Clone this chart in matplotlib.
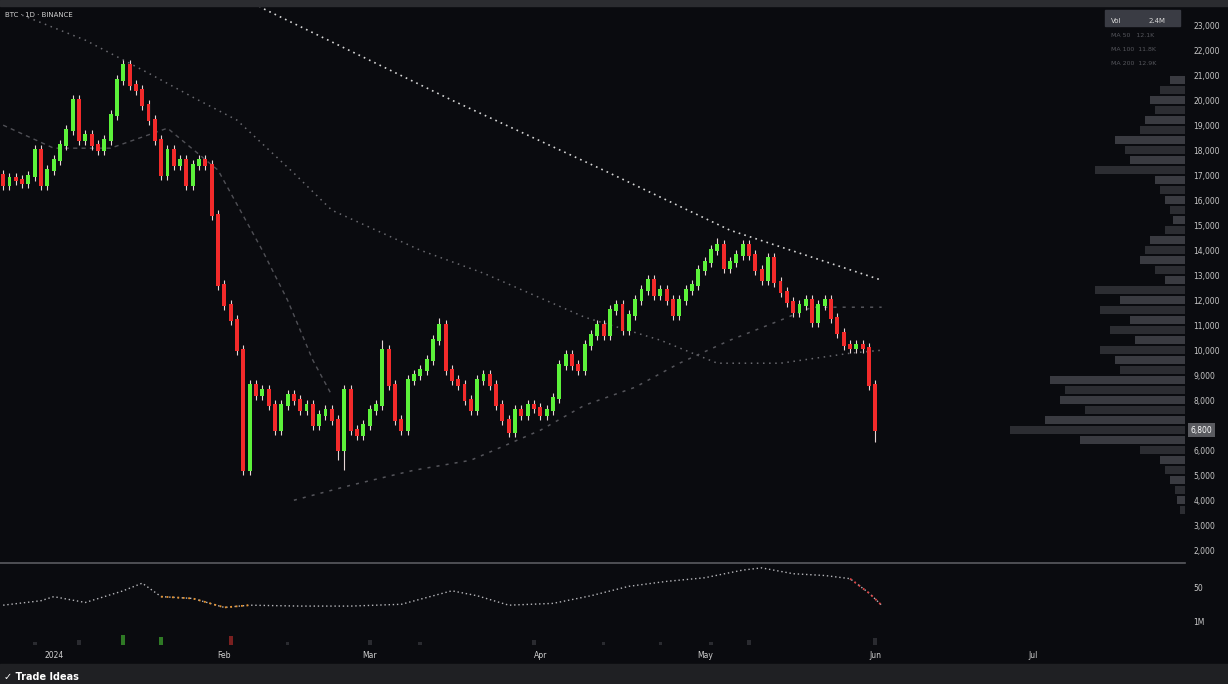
import numpy as np
import matplotlib.pyplot as plt
from matplotlib.patches import Rectangle

# candles (daily)
opens = [17000, 16600, 16880, 16800, 16680, 16960, 18000, 16600, 17200, 17600,
         18200, 18800, 20000, 18400, 18600, 18200, 18000, 18400, 19400, 20800,
         21400, 20600, 20400, 19800, 19200, 18400, 17000, 18000, 17400, 17600,
         16600, 17400, 17600, 17400, 15400, 12600, 11800, 11200, 10000, 5200,
         8600, 8200, 8400, 7800, 6800, 7800, 8200, 8000, 7600, 7800,
         7000, 7400, 7600, 7200, 6000, 8400, 6800, 6600, 7000, 7600,
         7800, 10000, 8600, 7200, 6800, 8800, 9000, 9200, 9600, 10400,
         11000, 9200, 8800, 8600, 8000, 7600, 8800, 9000, 8600, 7800,
         7200, 6720, 7600, 7400, 7800, 7680, 7400, 7600, 8080, 9400,
         9800, 9400, 9200, 10200, 10600, 11000, 10600, 11600, 11800, 10800,
         11400, 12000, 12400, 12800, 12200, 12400, 12000, 11400, 12000, 12400,
         12600, 13200, 13520, 14000, 14200, 13280, 13520, 13800, 14200, 13800,
         13200, 12800, 13680, 12720, 12320, 11920, 11520, 11800, 12000, 11120,
         11800, 12000, 11280, 10680, 10200, 10080, 10200, 10080, 8600]
closes = [16600, 16880, 16800, 16680, 16960, 18000, 16600, 17200, 17600, 18200,
          18800, 20000, 18400, 18600, 18200, 18000, 18400, 19400, 20800, 21400,
          20600, 20400, 19800, 19200, 18400, 17000, 18000, 17400, 17600, 16600,
          17400, 17600, 17400, 15400, 12600, 11800, 11200, 10000, 5200, 8600,
          8200, 8400, 7800, 6800, 7800, 8200, 8000, 7600, 7800, 7000,
          7400, 7600, 7200, 6000, 8400, 6800, 6600, 7000, 7600, 7800,
          10000, 8600, 7200, 6800, 8800, 9000, 9200, 9600, 10400, 11000,
          9200, 8800, 8600, 8000, 7600, 8800, 9000, 8600, 7800, 7200,
          6720, 7600, 7400, 7800, 7680, 7400, 7600, 8080, 9400, 9800,
          9400, 9200, 10200, 10600, 11000, 10600, 11600, 11800, 10800, 11400,
          12000, 12400, 12800, 12200, 12400, 12000, 11400, 12000, 12400, 12600,
          13200, 13520, 14000, 14200, 13280, 13520, 13800, 14200, 13800, 13200,
          12800, 13680, 12720, 12320, 11920, 11520, 11800, 12000, 11120, 11800,
          12000, 11280, 10680, 10200, 10080, 10200, 10080, 8600, 6800]
highs = [17200, 17080, 17080, 17000, 17160, 18200, 18200, 17400, 17800, 18400,
         19000, 20200, 20200, 18800, 18800, 18400, 18600, 19600, 21000, 21600,
         21600, 20800, 20600, 20000, 19400, 18600, 18200, 18200, 17800, 17800,
         17600, 17800, 17800, 17600, 15600, 12800, 12000, 11400, 10200, 8800,
         8800, 8600, 8600, 8000, 8000, 8400, 8400, 8200, 8000, 8000,
         7600, 7800, 7800, 7400, 8600, 8600, 7000, 7200, 7800, 8000,
         10400, 10200, 8800, 7400, 9000, 9200, 9400, 9800, 10600, 11280,
         11200, 9400, 9000, 8800, 8200, 9000, 9200, 9200, 8800, 8000,
         7400, 7800, 7800, 8000, 8000, 7880, 7800, 8280, 9600, 10000,
         10000, 9600, 10400, 10800, 11200, 11200, 11800, 12000, 12000, 11600,
         12200, 12600, 13000, 13000, 12600, 12600, 12200, 12200, 12600, 12800,
         13400, 13720, 14200, 14480, 14400, 13720, 14000, 14400, 14400, 14000,
         13400, 13880, 13880, 12920, 12520, 12120, 12000, 12200, 12200, 12000,
         12200, 12200, 11480, 10880, 10400, 10400, 10400, 10280, 8800]
lows = [16400, 16400, 16600, 16480, 16480, 16760, 16400, 16400, 17000, 17400,
        18000, 18600, 18200, 18200, 18000, 17800, 17800, 18200, 19200, 20600,
        20400, 20200, 19600, 19000, 18200, 16800, 16800, 17200, 17200, 16400,
        16400, 17200, 17200, 15200, 12400, 11600, 11000, 9800, 5000, 5000,
        8000, 8000, 7600, 6600, 6600, 7600, 7800, 7400, 7400, 6800,
        6800, 7200, 7000, 5600, 5200, 6600, 6400, 6400, 6800, 7400,
        7600, 8400, 7000, 6600, 6600, 8600, 8800, 9000, 9400, 10200,
        9000, 8600, 8400, 7800, 7400, 7400, 8600, 8400, 7600, 7000,
        6520, 6520, 7200, 7200, 7480, 7200, 7200, 7400, 7880, 9200,
        9200, 9000, 9000, 10000, 10400, 10400, 10400, 11400, 10600, 10600,
        11200, 11800, 12200, 12000, 12000, 11800, 11200, 11200, 11800, 12200,
        12400, 13000, 13320, 13800, 13080, 13080, 13320, 13600, 13600, 13000,
        12600, 12600, 12520, 12120, 11720, 11320, 11320, 11600, 10920, 10920,
        11600, 11080, 10480, 10000, 9880, 9880, 9880, 8400, 6320]

# moving average lines (candle index, price)
ma_slow_x = [36, 41, 71, 95, 115, 139]
ma_slow_y = [24600, 23680, 20000, 17200, 14800, 12800]
ma_mid_x = [3, 13, 23, 30, 37, 46, 52, 66, 76, 92, 104, 113, 123, 134, 139]
ma_mid_y = [23400, 22400, 21080, 20120, 19200, 17080, 15600, 14000, 13080,
            11320, 10400, 9480, 9480, 9880, 10000]
ma_fast_x = [0, 8, 17, 26, 34, 41, 45, 49, 52]
ma_fast_y = [19000, 18080, 18080, 18880, 17200, 14000, 12000, 9600, 8200]
ma_low_x = [46, 55, 65, 74, 85, 92, 100, 107, 115, 123, 128, 139]
ma_low_y = [4000, 4600, 5200, 5600, 6800, 7800, 8520, 9480, 10400, 11200,
            11720, 11720]

# volume profile
vp_price = list(range(20800, 3200, -400))
vp_vol = [15, 25, 35, 30, 40, 45, 70, 60, 55, 90, 30, 25, 20, 15, 12, 20,
          35, 40, 45, 30, 20, 90, 65, 85, 55, 75, 50, 85, 70, 65, 135, 120,
          125, 100, 140, 175, 105, 45, 25, 20, 15, 10, 8, 5]

# oscillator
osc_x = [0, 6, 8, 13, 19, 22, 25, 30, 35, 39, 47, 55, 63, 71, 75, 80, 87,
         93, 99, 105, 111, 117, 120, 125, 130, 134, 137, 139]
osc_y = [11, 21, 30, 17, 43, 60, 30, 26, 6, 11, 9, 9, 13, 43, 32, 11, 15,
         32, 53, 64, 72, 89, 94, 81, 77, 70, 38, 11]

# volume strip (only visible bars)
vol_x = [5, 12, 19, 25, 36, 45, 58, 66, 84, 95, 104, 112, 118, 138]
vol_y = [3, 4, 9, 7, 8, 3, 4, 3, 4, 3, 3, 3, 4, 6]

month_pos = [8, 35, 58, 85, 111, 138, 163]
month_lab = ['2024', 'Feb', 'Mar', 'Apr', 'May', 'Jun', 'Jul']

price_ticks = [v for v in range(2000, 24000, 1000) if v != 7000]

bg = '#0a0b0f'
green = '#5cf23a'
red = '#f22a2a'

fig = plt.figure(figsize=(12.28, 6.84), dpi=100, facecolor=bg)

ax = fig.add_axes([0, 0.178, 0.965, 0.813], facecolor=bg)
xs = np.arange(len(closes))
o = np.array(opens)
c = np.array(closes)
cols = [green if cc >= oo else red for oo, cc in zip(o, c)]
ax.vlines(xs, lows, highs, color='#e6d6d6', lw=0.8, zorder=2)
ax.bar(xs, np.abs(c - o) + 60, bottom=np.minimum(o, c) - 30, width=0.62,
       color=cols, zorder=3)

ax.plot(ma_slow_x, ma_slow_y, ls=(0, (1, 2.5)), color='#d8d8d8', lw=1.2, zorder=1)
ax.plot(ma_mid_x, ma_mid_y, ls=(0, (1, 3)), color='#6a6a70', lw=1.1, zorder=1)
ax.plot(ma_fast_x, ma_fast_y, ls=(0, (3, 3)), color='#505056', lw=1.0, zorder=1)
ax.plot(ma_low_x, ma_low_y, ls=(0, (2, 4)), color='#55555b', lw=1.1, zorder=1)

ax.set_xlim(-0.5, 187)
ax.set_ylim(1520, 23760)
ax.yaxis.tick_right()
ax.set_yticks(price_ticks)
ax.set_yticklabels([f'{v:,.0f}' for v in price_ticks])
ax.tick_params(axis='y', length=0, labelsize=5.5, labelcolor='#c8c8c8', pad=6)
ax.set_xticks([])
for s in ax.spines.values():
    s.set_visible(False)

# last price tag
ax.annotate(f'{closes[-1]:,.0f}', xy=(1.0, closes[-1]), xycoords=('axes fraction', 'data'),
            xytext=(4, 0), textcoords='offset points', fontsize=5.5, color='white',
            va='center', ha='left',
            bbox=dict(boxstyle='square,pad=0.3', fc='#5a5b60', ec='none'))

# volume profile on the right side of the price pane
axp = fig.add_axes([0.802, 0.178, 0.163, 0.813])
axp.patch.set_alpha(0)
pcols = ['#3a3b41' if i % 2 == 0 else '#2c2d32' for i in range(len(vp_vol))]
axp.barh(vp_price, vp_vol, height=340, color=pcols)
axp.set_xlim(200, 0)
axp.set_ylim(ax.get_ylim())
axp.axis('off')

# oscillator pane
ax2 = fig.add_axes([0, 0.108, 0.965, 0.069], facecolor=bg)
ax2.plot(osc_x, osc_y, ls=(0, (1, 2)), color='#b8b8bc', lw=1.0)
ax2.plot(osc_x[6:10], osc_y[6:10], ls=(0, (1, 2)), color='#e8922a', lw=1.3)
ax2.plot(osc_x[-3:], osc_y[-3:], ls=(0, (1, 2)), color='#e04040', lw=1.3)
ax2.set_xlim(ax.get_xlim())
ax2.set_ylim(0, 105)
ax2.yaxis.tick_right()
ax2.set_yticks([50])
ax2.set_yticklabels(['50'])
ax2.tick_params(axis='y', length=0, labelsize=5.5, labelcolor='#c8c8c8', pad=6)
ax2.set_xticks([])
for s in ax2.spines.values():
    s.set_visible(False)
ax2.spines['top'].set_visible(True)
ax2.spines['top'].set_color('#5a5b60')
ax2.spines['top'].set_linewidth(1.2)

# volume strip
ax3 = fig.add_axes([0, 0.057, 0.965, 0.051], facecolor=bg)
vcols = ['#2f7a25' if i in (19, 25) else ('#7a2020' if i == 36 else '#2a2b30') for i in vol_x]
ax3.bar(vol_x, vol_y, width=0.6, color=vcols)
ax3.set_xlim(ax.get_xlim())
ax3.set_ylim(0, 30)
ax3.yaxis.tick_right()
ax3.set_yticks([20])
ax3.set_yticklabels(['1M'])
ax3.tick_params(axis='y', length=0, labelsize=5.5, labelcolor='#c8c8c8', pad=6)
ax3.set_xticks(month_pos)
ax3.set_xticklabels(month_lab)
ax3.tick_params(axis='x', length=0, labelsize=5.5, labelcolor='#d0d0d0', pad=4)
for s in ax3.spines.values():
    s.set_visible(False)

# frame bits: top strip, bottom toolbar, header text, legend box
fig.patches.append(Rectangle((0, 0.991), 1, 0.009, transform=fig.transFigure,
                             color='#2b2c30', zorder=0))
fig.patches.append(Rectangle((0, 0), 1, 0.029, transform=fig.transFigure,
                             color='#1f2023', zorder=0))
fig.text(0.003, 0.006, '✓ Trade Ideas', fontsize=7, color='white', fontweight='bold')
fig.text(0.004, 0.975, 'BTC · 1D · BINANCE', fontsize=5, color='#d0d0d0')
fig.patches.append(Rectangle((0.9, 0.962), 0.061, 0.023, transform=fig.transFigure,
                             color='#3a3c44', zorder=0))
fig.text(0.905, 0.966, 'Vol', fontsize=5, color='#d8d8d8')
fig.text(0.935, 0.966, '2.4M', fontsize=5, color='#d8d8d8')
fig.text(0.905, 0.946, 'MA 50   12.1K', fontsize=4.5, color='#55565c')
fig.text(0.905, 0.926, 'MA 100  11.8K', fontsize=4.5, color='#55565c')
fig.text(0.905, 0.905, 'MA 200  12.9K', fontsize=4.5, color='#55565c')

fig.savefig('out.png', dpi=100, facecolor=bg)
